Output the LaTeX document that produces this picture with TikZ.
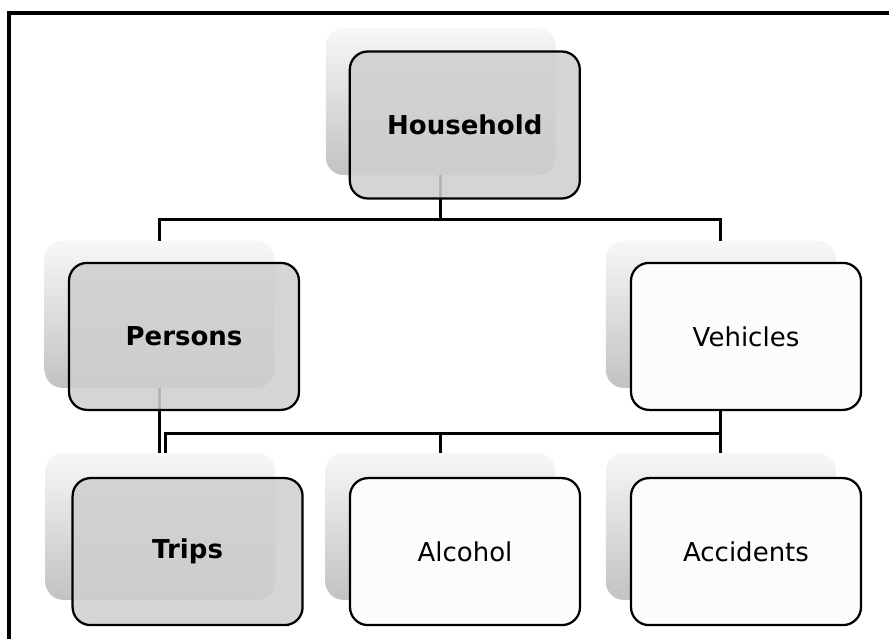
\documentclass[tikz,border=0pt]{standalone}
\usepackage{fontspec}
\setmainfont{DejaVu Sans}
\usetikzlibrary{positioning}

\begin{document}
\begin{tikzpicture}[
  ghost/.style={
    rectangle,
    rounded corners=0.45cm,
    minimum width=5.75cm,
    minimum height=3.675cm,
    top color=black!3,
    bottom color=black!24,
    draw=none
  },
  card/.style={
    rectangle,
    rounded corners=0.45cm,
    draw=black,
    line width=1.6pt,
    fill=black!1,
    minimum width=5.75cm,
    minimum height=3.675cm,
    font=\fontsize{18.5}{22}\selectfont,
    text centered
  },
  darkcard/.style={
    card,
    fill=black!19,
    fill opacity=0.88,
    text opacity=1,
    font=\fontsize{18.5}{22}\selectfont\bfseries
  },
  link/.style={
    draw=black,
    line width=2pt
  }
]
\useasboundingbox (0,0) rectangle (22.225,-15.975);
\draw[line width=2.2pt] (0.225,-15.975) -- (0.225,-0.325) -- (22.225,-0.325);

\node[ghost] (household-s) at (11.02,-2.54) {};
\node[ghost] (persons-s) at (3.99,-7.86) {};
\node[ghost] (vehicles-s) at (18.02,-7.86) {};
\node[ghost] (trips-s) at (4.01,-13.16) {};
\node[ghost] (alcohol-s) at (11.01,-13.16) {};
\node[ghost] (accidents-s) at (18.02,-13.16) {};

\coordinate[below=1.1cm of household-s.south] (hhub);
\coordinate[below=1.13cm of vehicles-s.south] (vhub);

\draw[link] (household-s.south) -- (hhub) -| (persons-s.north);
\draw[link] (hhub) -| (vehicles-s.north);
\draw[link] (persons-s.south) -- (persons-s.south |- trips-s.north);
\draw[link] (vehicles-s.south) -- (vhub) -| (alcohol-s.north);
\draw[link] (vhub) -| (accidents-s.north);
\draw[link] (vhub) -| ([xshift=0.12cm]trips-s.north);

\node[darkcard] (household) at ([shift={(0.6,-0.585)}]household-s.center) {Household};
\node[darkcard] (persons) at ([shift={(0.61,-0.55)}]persons-s.center) {Persons};
\node[card] (vehicles) at ([shift={(0.63,-0.55)}]vehicles-s.center) {Vehicles};
\node[darkcard] (trips) at ([shift={(0.68,-0.63)}]trips-s.center) {Trips};
\node[card] (alcohol) at ([shift={(0.615,-0.63)}]alcohol-s.center) {Alcohol};
\node[card] (accidents) at ([shift={(0.63,-0.63)}]accidents-s.center) {Accidents};

\end{tikzpicture}
\end{document}
